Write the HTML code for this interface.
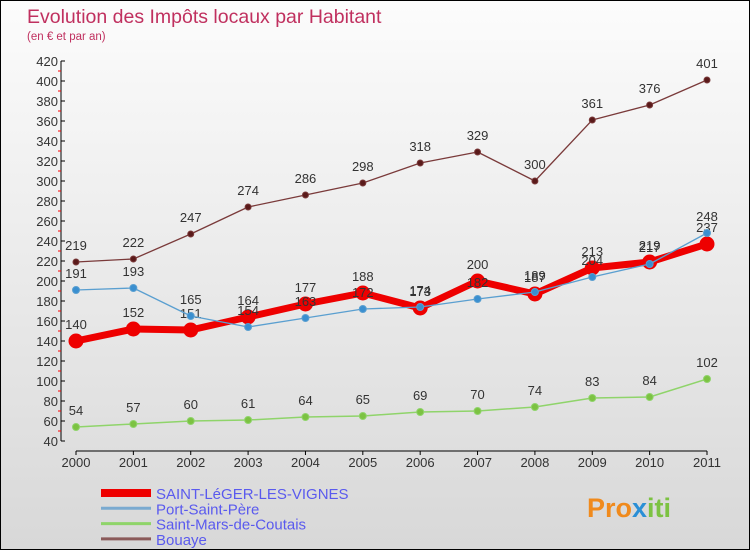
<!DOCTYPE html>
<html><head><meta charset="utf-8"><style>
body{margin:0;}
#c{width:750px;height:550px;position:relative;background:linear-gradient(#fcfcfc,#d8d8d8);box-sizing:border-box;border:1px solid #000;overflow:hidden;font-family:"Liberation Sans",sans-serif;}
svg{position:absolute;left:0;top:0}
</style></head><body>
<div id="c">
<svg id="s" width="750" height="550">
<text x="26" y="22" font-size="19.5" fill="#c0305f">Evolution des Impôts locaux par Habitant</text>
<text x="26" y="39" font-size="11.5" fill="#c0305f">(en € et par an)</text>
<text x="586" y="516" font-size="27" font-weight="bold" fill="#f08a1c">Pro<tspan fill="#2a8fd6">x</tspan><tspan fill="#7cc242">iti</tspan></text>
</svg>
</div>
<script>
const years=[2000,2001,2002,2003,2004,2005,2006,2007,2008,2009,2010,2011];
const yTicks=[40,60,80,100,120,140,160,180,200,220,240,260,280,300,320,340,360,380,400,420];
const bouaye=[219,222,247,274,286,298,318,329,300,361,376,401];
const saintMars=[54,57,60,61,64,65,69,70,74,83,84,102];
const portSaintPere=[191,193,165,154,163,172,174,182,189,204,217,248];
const saintLeger=[140,152,151,164,177,188,173,200,187,213,219,237];
const svg=document.getElementById('s');const NS='http://www.w3.org/2000/svg';
function X(i){return 75+i*(706-75)/(years.length-1);}
function Y(v){return 480-v;}
function mk(t,a,name){const e=document.createElementNS(NS,t);for(const k in a)e.setAttribute(k,a[k]);


svg.appendChild(e);return e;}
mk('line',{x1:60,y1:Y(420),x2:60,y2:Y(40),stroke:'#000'},'y-axis');
yTicks.forEach(v=>{mk('line',{x1:60,y1:Y(v),x2:64,y2:Y(v),stroke:'#000'},'y-tick');
if(v<420)mk('line',{x1:57,y1:Y(v+10),x2:60,y2:Y(v+10),stroke:'red'},'y-minor-tick');
const t=mk('text',{x:57,y:Y(v)+5,'font-size':13,fill:'#333','text-anchor':'end'},'y-tick-label');t.textContent=v;});
mk('line',{x1:75,y1:450,x2:X(11),y2:450,stroke:'#000'},'x-axis');
years.forEach((yr,i)=>{mk('line',{x1:X(i),y1:450,x2:X(i),y2:454,stroke:'#000'},'x-tick');
const t=mk('text',{x:X(i),y:466,'font-size':13,fill:'#333','text-anchor':'middle'},'x-tick-label');t.textContent=yr;});
function series(d,col,w,r,dot,name){
mk('polyline',{points:d.map((v,i)=>X(i)+','+Y(v)).join(' '),fill:'none',stroke:col,'stroke-width':w,'stroke-linejoin':'round'},name+'-line');
d.forEach((v,i)=>{mk('circle',{cx:X(i),cy:Y(v),r:r,fill:dot,stroke:col},name+'-point');
const t=mk('text',{x:X(i),y:Y(v)-12,'font-size':13,fill:'#333','text-anchor':'middle'},name+'-value-label');t.textContent=v;});}
series(bouaye,'#7a3a3a',1.3,3,'#5a1a1a','bouaye');
series(saintMars,'#8fd46a',1.5,3.5,'#7cc242','saint-mars');
series(saintLeger,'#ee0000',7,7,'#ee0000','saint-leger');
series(portSaintPere,'#5a9fd0',1.3,3.5,'#3a8fd0','port-saint-pere');
const leg=[['SAINT-LéGER-LES-VIGNES','#ee0000',8],['Port-Saint-Père','#7aaad0',3],['Saint-Mars-de-Coutais','#8fd46a',3],['Bouaye','#8a5a5a',3]];
leg.forEach((l,i)=>{const y=492+i*15.3;
mk('line',{x1:100,y1:y,x2:150,y2:y,stroke:l[1],'stroke-width':l[2]},'legend-swatch');
const t=mk('text',{x:155,y:y+6,'font-size':15,fill:'#5a5aee'},'legend-entry');t.textContent=l[0];});
</script>
</body></html>
